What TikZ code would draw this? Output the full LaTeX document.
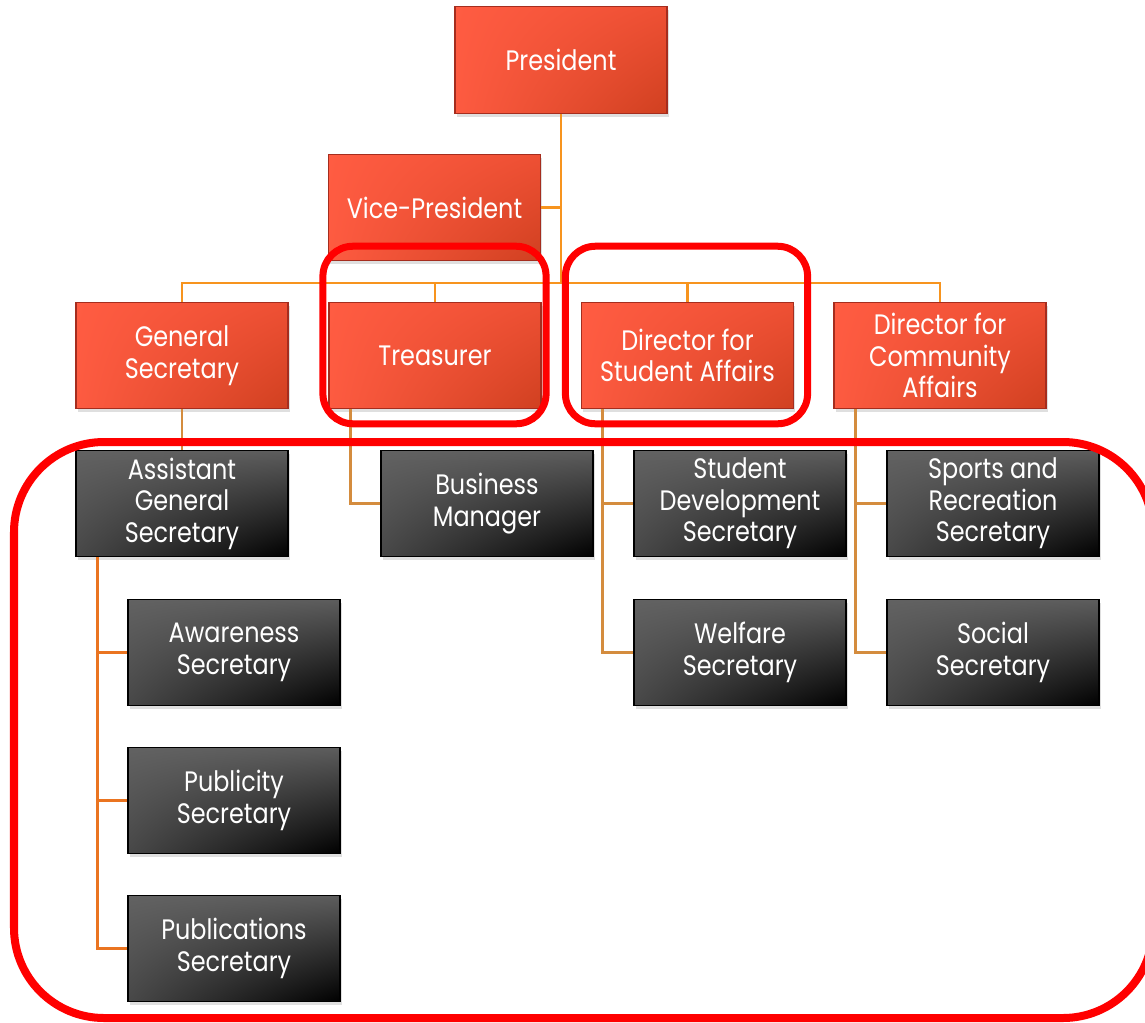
\documentclass[tikz,border=0pt]{standalone}
\usepackage{fontspec}
\setmainfont[FakeStretch=0.85]{Poppins}
\usetikzlibrary{shadows,shadings}

\definecolor{redlight}{RGB}{255,92,66}
\definecolor{redmid}{RGB}{238,80,52}
\definecolor{reddark}{RGB}{208,64,32}
\definecolor{redrim}{RGB}{165,45,30}
\definecolor{greylight}{RGB}{98,98,98}
\definecolor{greymid}{RGB}{72,72,72}
\definecolor{linkorange}{RGB}{247,148,30}
\definecolor{linktan}{RGB}{212,140,62}
\definecolor{linkdeep}{RGB}{234,116,32}

\begin{document}
\begin{tikzpicture}[x=0.025cm,y=-0.025cm,
	post/.style={rectangle, minimum width=5.3cm, minimum height=2.66cm,
		inner sep=0pt, align=center, text=white,
		font=\fontsize{20}{22.4}\selectfont,
		drop shadow={shadow xshift=1.2pt, shadow yshift=-2.5pt, opacity=0.25}},
	officer/.style={post, draw=redrim, line width=0.8pt,
		upper left=redlight, lower left=redlight!90!redmid,
		upper right=redmid, lower right=reddark},
	member/.style={post, draw=black, line width=1pt,
		upper left=greylight, lower left=greymid,
		upper right=greylight!80!greymid, lower right=black},
	link/.style={line width=2.1pt, draw=linkorange},
	ring/.style={draw=red, line width=0.175cm, rounded corners=0.75cm}]

	\useasboundingbox (0,0) rectangle (1145,1022);
	\clip (0,0) rectangle (1145,1022);

	% officers
	\node[officer] (pres) at (561,60) {President};
	\node[officer] (vp) at (434.5,207.5) {Vice-President};
	\node[officer] (gensec) at (182,355.5) {General\\Secretary};
	\node[officer] (treas) at (435,355.5) {Treasurer};
	\node[officer] (dsa) at (687.5,355.5) {Director for\\Student Affairs};
	\node[officer] (dca) at (940,355.5) {Director for\\Community\\Affairs};

	% secretaries
	\node[member] (ags) at (182,503.5) {Assistant\\General\\Secretary};
	\node[member] (bizmgr) at (487,503.5) {Business\\Manager};
	\node[member] (sdsec) at (740,503.5) {Student\\Development\\Secretary};
	\node[member] (srsec) at (993,503.5) {Sports and\\Recreation\\Secretary};
	\node[member] (awsec) at (234,652.5) {Awareness\\Secretary};
	\node[member] (pubsec) at (234,800.5) {Publicity\\Secretary};
	\node[member] (pubnsec) at (234,948.5) {Publications\\Secretary};
	\node[member] (welsec) at (740,652.5) {Welfare\\Secretary};
	\node[member] (socsec) at (993,652.5) {Social\\Secretary};

	% top links
	\coordinate (bus) at (561,283);
	\draw[link] (pres.south) -- (bus);
	\draw[link] (vp.east) -- (vp.east -| bus);
	\draw[link] (gensec.north) |- (bus) -| (dca.north);
	\draw[link] (treas.north) -- (treas.north |- bus);
	\draw[link] (dsa.north) -- (dsa.north |- bus);

	% links down to the secretaries
	\draw[link, draw=linktan] (gensec) -- (ags);
	\draw[link, draw=linktan] ([xshift=0.55cm]treas.south west) |- (bizmgr.west);
	\draw[link, draw=linktan] ([xshift=0.55cm]dsa.south west) |- (welsec.west);
	\draw[link, draw=linktan] ([xshift=0.55cm]dsa.south west) |- (sdsec.west);
	\draw[link, draw=linktan] ([xshift=0.55cm]dca.south west) |- (socsec.west);
	\draw[link, draw=linktan] ([xshift=0.55cm]dca.south west) |- (srsec.west);
	\foreach \sec in {awsec,pubsec,pubnsec}
		\draw[link, draw=linkdeep] ([xshift=0.55cm]ags.south west) |- (\sec.west);

	% highlights
	\draw[ring] ([shift={(-5.5,-55.5)}]treas.north west) rectangle ([shift={(4.5,14.5)}]treas.south east);
	\draw[ring] ([shift={(-15.5,-55.5)}]dsa.north west) rectangle ([shift={(13.5,14.5)}]dsa.south east);
	\coordinate (frameNW) at (14,442);
	\coordinate (frameSE) at (1153,1018);
	\draw[ring, line width=0.2cm, rounded corners=2.25cm] (frameNW) rectangle (frameSE);
\end{tikzpicture}
\end{document}
